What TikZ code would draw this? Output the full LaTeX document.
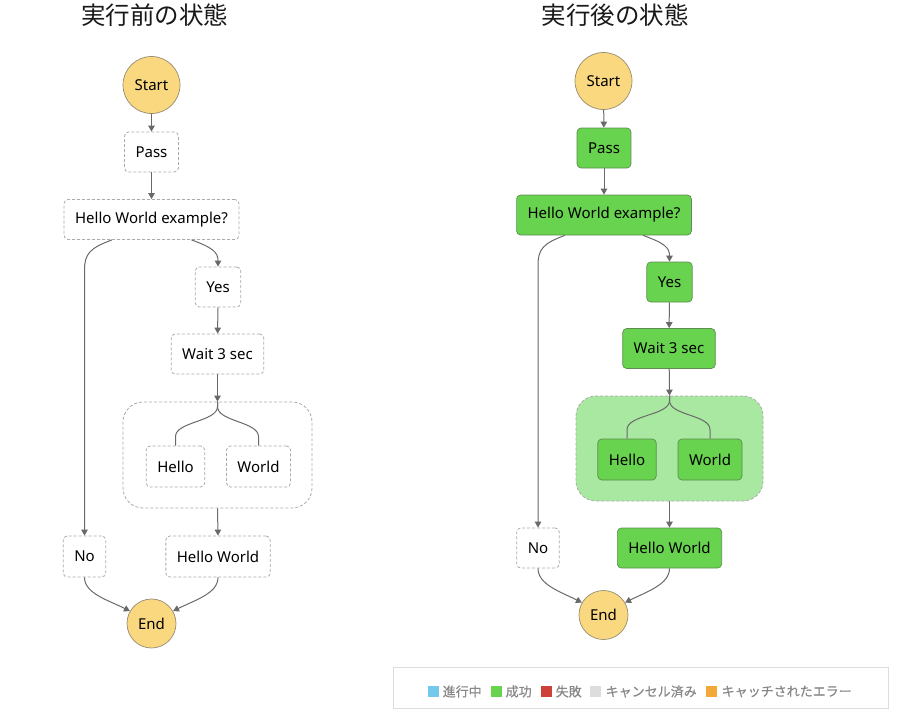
\documentclass[tikz,border=0pt]{standalone}
\usepackage{fontspec}
\setmainfont{Noto Sans}
\newfontfamily\cjk{Noto Sans CJK JP}
\newfontfamily\cjkleg{Noto Sans CJK JP}[FakeBold=0.6]
\usetikzlibrary{arrows.meta,calc}
\definecolor{gold}{RGB}{249,216,128}
\definecolor{goldline}{RGB}{150,140,115}
\definecolor{okgreen}{RGB}{103,211,78}
\definecolor{okline}{RGB}{95,140,80}
\definecolor{parfill}{RGB}{168,232,160}
\definecolor{dashgray}{RGB}{170,170,170}
\definecolor{conngray}{RGB}{105,105,105}
\definecolor{legblue}{RGB}{115,200,235}
\definecolor{legred}{RGB}{205,65,58}
\definecolor{leggray}{RGB}{221,221,221}
\definecolor{legorange}{RGB}{245,168,58}
\definecolor{legtext}{RGB}{135,135,135}
\definecolor{legborder}{RGB}{221,221,221}
\tikzset{
  base/.style={font=\fontsize{15}{18}\selectfont, text=black, inner xsep=11pt, inner ysep=0pt, minimum height=40pt, rounded corners=4pt},
  todo/.style={base, draw=dashgray, dash pattern=on 3pt off 2pt, line width=0.8pt, fill=white},
  done/.style={base, draw=okline, line width=0.7pt, fill=okgreen},
  terminal/.style={circle, draw=goldline, line width=0.7pt, fill=gold, inner sep=0pt, font=\fontsize{15}{18}\selectfont},
  partodo/.style={draw=dashgray, dash pattern=on 3pt off 2pt, line width=0.8pt, rounded corners=20pt, fill=white},
  pardone/.style={draw=dashgray, dash pattern=on 3pt off 2pt, line width=0.8pt, rounded corners=20pt, fill=parfill},
  conn/.style={draw=conngray, line width=1pt},
  arr/.style={conn, -{Triangle[length=6pt,width=6.5pt]}},
  title/.style={font=\cjk\fontsize{24.5}{28}\selectfont, text=black!90},
  legsq/.style={minimum size=11pt, inner sep=0pt},
  legtxt/.style={font=\cjkleg\fontsize{13}{15}\selectfont, text=legtext, anchor=west, inner sep=0pt}
}
\begin{document}
\begin{tikzpicture}[x=1pt,y=-1pt]
\useasboundingbox (0,0) rectangle (909,720);

% ---------- titles ----------
\node[title] (t1) at (154.5,15) {実行前の状態};
\node[title] (t2) at (615,15) {実行後の状態};

% ---------- left diagram (before) ----------
\node[partodo, minimum width=189pt, minimum height=106pt] (par1) at (217.5,455) {};
\node[terminal, minimum size=57pt] (s1) at (151.5,85) {Start};
\node[todo] (p1) at (151.5,152) {Pass};
\node[todo] (hwe1) at (151.5,219.5) {Hello World example?};
\node[todo] (y1) at (218,287) {Yes};
\node[todo] (w1) at (217.5,354) {Wait 3 sec};
\node[todo, minimum height=41pt] (h1) at (175.5,466.5) {Hello};
\node[todo, minimum height=41pt] (wd1) at (258.5,466.5) {World};
\node[todo, minimum height=41pt] (n1) at (84.5,556.5) {No};
\node[todo, minimum height=41pt] (hw1) at (218,556.5) {Hello World};
\node[terminal, minimum size=49pt] (e1) at (151.5,623.5) {End};

\draw[arr] (s1) -- (p1);
\draw[arr] (p1) -- (hwe1);
\draw[arr] ([xshift=-39.5pt]hwe1.south) .. controls +(-22,8) and +(0,-16) .. ($(n1.north|-hwe1.south)+(0,30)$) -- (n1.north);
\draw[arr] ([xshift=40pt]hwe1.south) .. controls +(22,8) and +(0,-14) .. (y1.north);
\draw[arr] (y1) -- (w1);
\draw[arr] (w1) -- (par1.north);
\draw[conn] (par1.north) -- ++(0,5) .. controls +(0,15) and +(0,-15) .. ([yshift=9pt]h1.north) -- (h1.north);
\draw[conn] (par1.north) -- ++(0,5) .. controls +(0,15) and +(0,-15) .. ([yshift=9pt]wd1.north) -- (wd1.north);
\draw[arr] (par1.south) -- (hw1.north);
\draw[arr] (n1.south) .. controls +(0,16) and +(-22,-11) .. (e1.150);
\draw[arr] (hw1.south) .. controls +(0,16) and +(22,-11) .. (e1.30);

% ---------- right diagram (after) ----------
\node[pardone, minimum width=187pt, minimum height=105pt] (par2) at (669.5,448.5) {};
\node[terminal, minimum size=57pt] (s2) at (603.5,81) {Start};
\node[done] (p2) at (604,148) {Pass};
\node[done] (hwe2) at (604,215) {Hello World example?};
\node[done] (y2) at (669.5,282) {Yes};
\node[done] (w2) at (669,348.5) {Wait 3 sec};
\node[done, minimum height=41pt] (h2) at (627,459.5) {Hello};
\node[done, minimum height=41pt] (wd2) at (710,459.5) {World};
\node[todo] (n2) at (538,548) {No};
\node[done] (hw2) at (669.5,548) {Hello World};
\node[terminal, minimum size=49pt] (e2) at (603.5,615) {End};

\draw[arr] (s2) -- (p2);
\draw[arr] (p2) -- (hwe2);
\draw[arr] ([xshift=-39pt]hwe2.south) .. controls +(-22,8) and +(0,-16) .. ($(n2.north|-hwe2.south)+(0,30)$) -- (n2.north);
\draw[arr] ([xshift=39pt]hwe2.south) .. controls +(22,8) and +(0,-14) .. (y2.north);
\draw[arr] (y2) -- (w2);
\draw[arr] (w2) -- (par2.north);
\draw[conn] (par2.north) -- ++(0,5) .. controls +(0,15) and +(0,-15) .. ([yshift=9pt]h2.north) -- (h2.north);
\draw[conn] (par2.north) -- ++(0,5) .. controls +(0,15) and +(0,-15) .. ([yshift=9pt]wd2.north) -- (wd2.north);
\draw[arr] (par2.south) -- (hw2.north);
\draw[arr] (n2.south) .. controls +(0,16) and +(-22,-11) .. (e2.150);
\draw[arr] (hw2.south) .. controls +(0,16) and +(22,-11) .. (e2.30);

% ---------- legend ----------
\node[draw=legborder, line width=1pt, minimum width=495pt, minimum height=41pt, inner sep=0pt] (leg) at (640.5,687.5) {};
\node[legsq, fill=legblue] (q1) at (433.5,691.5) {};
\node[legtxt] (l1) at (442.5,691.5) {進行中};
\node[legsq, fill=okgreen] (q2) at (496.5,691.5) {};
\node[legtxt] (l2) at (505.5,691.5) {成功};
\node[legsq, fill=legred] (q3) at (546.5,691.5) {};
\node[legtxt] (l3) at (555.5,691.5) {失敗};
\node[legsq, fill=leggray] (q4) at (595.5,691.5) {};
\node[legtxt] (l4) at (605.5,691.5) {キャンセル済み};
\node[legsq, fill=legorange] (q5) at (711.5,691.5) {};
\node[legtxt] (l5) at (721.5,691.5) {キャッチされたエラー};
\end{tikzpicture}
\end{document}
